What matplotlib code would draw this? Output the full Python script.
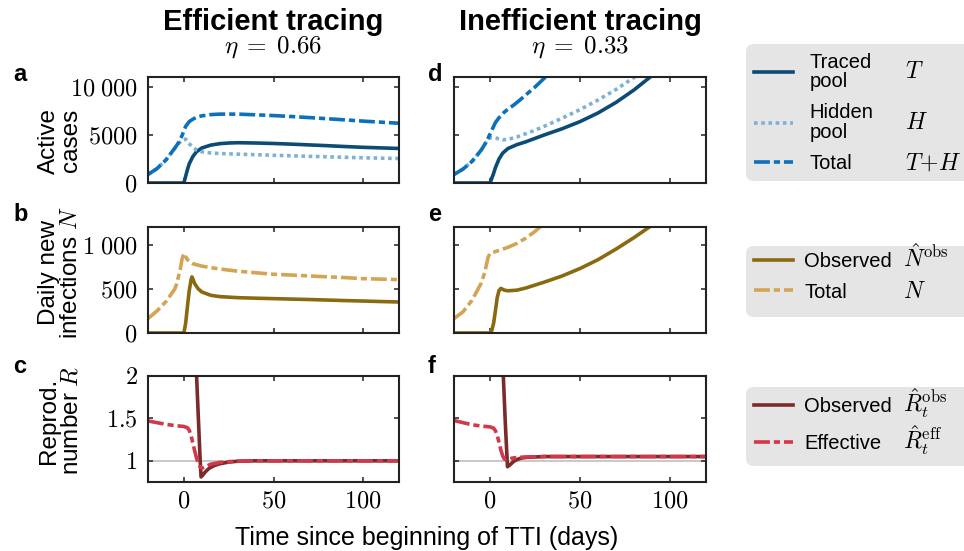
import matplotlib
matplotlib.use("Agg")
import matplotlib.pyplot as plt
from matplotlib.lines import Line2D
from matplotlib.patches import FancyBboxPatch
from matplotlib.transforms import IdentityTransform

plt.rcParams['font.family'] = ['Liberation Sans', 'DejaVu Sans']
plt.rcParams['mathtext.fontset'] = 'cm'

# ---- data ----
# efficient tracing, active cases
days_T_eff = [-20, 0, 1, 2, 3, 5, 7, 10, 15, 20, 25, 30, 40, 50, 60, 70, 80, 90, 100, 110, 120]
T_eff = [0, 0, 700, 1400, 2000, 2750, 3250, 3650, 3950, 4100, 4170, 4200, 4170, 4120, 4050, 3970, 3890, 3800, 3720, 3660, 3600]
days_H_eff = [-20, -15, -10, -5, -3, -1, 1, 3, 5, 7, 10, 15, 20, 30, 40, 50, 60, 70, 80, 90, 100, 110, 120]
H_eff = [890, 1500, 2400, 3650, 4100, 4450, 4580, 4100, 3700, 3450, 3250, 3130, 3070, 3010, 2950, 2890, 2840, 2780, 2730, 2680, 2630, 2590, 2550]
days_tot_eff = [-20, -15, -10, -5, -3, -1, 1, 3, 5, 7, 10, 15, 20, 30, 40, 50, 60, 70, 80, 90, 100, 110, 120]
tot_eff = [890, 1500, 2400, 3650, 4200, 4950, 5900, 6400, 6650, 6850, 7000, 7130, 7180, 7180, 7110, 7030, 6930, 6820, 6700, 6580, 6450, 6340, 6230]

# inefficient tracing, active cases
days_T_ineff = [-20, 0, 1, 2, 3, 5, 7, 10, 15, 20, 25, 30, 40, 50, 60, 70, 80, 88, 92]
T_ineff = [0, 0, 500, 1000, 1600, 2500, 3100, 3600, 4000, 4300, 4650, 5000, 5650, 6400, 7300, 8400, 9700, 10900, 11500]
days_H_ineff = [-20, -15, -10, -5, -3, -1, 1, 3, 7, 10, 15, 20, 25, 30, 40, 50, 60, 70, 80, 85]
H_ineff = [890, 1450, 2250, 3400, 4000, 4600, 4750, 4700, 4500, 4550, 4800, 5150, 5500, 5900, 6750, 7650, 8650, 9750, 11000, 11700]
days_tot_ineff = [-20, -15, -10, -5, -3, -1, 1, 3, 5, 8, 10, 13, 16, 20, 25, 30, 35]
tot_ineff = [890, 1450, 2250, 3400, 4000, 4700, 5500, 6300, 6800, 7400, 7700, 8100, 8550, 9200, 10000, 10900, 11800]

# daily new infections
days_Nobs_eff = [-20, 0, 1, 2, 3, 4, 4.5, 5, 6, 8, 10, 15, 20, 30, 40, 50, 60, 70, 80, 90, 100, 110, 120]
Nobs_eff = [0, 0, 110, 300, 480, 600, 635, 615, 560, 500, 465, 427, 412, 400, 394, 389, 384, 379, 373, 367, 362, 356, 351]
days_N_eff = [-20, -15, -10, -5, -4, -2, -1, 0, 2, 5, 10, 15, 20, 30, 40, 50, 60, 70, 80, 90, 100, 110, 120]
N_eff = [163, 250, 355, 500, 558, 720, 840, 900, 830, 785, 757, 740, 725, 700, 682, 665, 656, 646, 636, 627, 615, 610, 604]
days_Nobs_ineff = [-20, 0, 1, 2, 3, 4, 5, 6, 8, 10, 15, 20, 30, 40, 50, 60, 70, 80, 90]
Nobs_ineff = [0, 0, 30, 110, 250, 400, 480, 505, 485, 478, 485, 510, 575, 645, 730, 830, 950, 1080, 1220]
days_N_ineff = [-20, -15, -10, -5, -3, -1, 0, 2, 5, 10, 15, 20, 25, 30, 35]
N_ineff = [163, 240, 370, 560, 680, 860, 900, 915, 935, 970, 1015, 1075, 1150, 1240, 1340]

# reproduction numbers
days_Robs_eff = [6, 7, 8, 9, 9.6, 10.5, 12, 14, 17, 20, 25, 30, 40, 60, 80, 100, 120]
Robs_eff = [2.55, 2.05, 1.55, 1.05, 0.81, 0.83, 0.87, 0.91, 0.945, 0.965, 0.985, 0.995, 1.0, 1.0, 1.0, 1.0, 1.0]
days_Reff_eff = [-20, -15, -10, -5, 0, 2, 3, 4, 5, 6, 7, 8, 9, 10, 11, 13, 15, 20, 25, 30, 40, 60, 80, 100, 120]
Reff_eff = [1.47, 1.45, 1.43, 1.415, 1.405, 1.39, 1.36, 1.3, 1.21, 1.12, 1.04, 0.97, 0.93, 0.915, 0.92, 0.94, 0.96, 0.98, 0.99, 0.995, 1.0, 1.0, 1.0, 1.0, 1.0]
days_Robs_ineff = [6.5, 7.4, 8.5, 9.7, 11, 13, 15, 17, 20, 25, 30, 50, 80, 120]
Robs_ineff = [2.45, 2.0, 1.45, 0.93, 0.95, 0.99, 1.015, 1.03, 1.04, 1.045, 1.05, 1.05, 1.05, 1.05]
days_Reff_ineff = [-20, -15, -10, -5, 0, 2, 3, 4, 5, 6, 7, 8, 9, 10, 12, 15, 20, 30, 50, 80, 120]
Reff_ineff = [1.475, 1.45, 1.425, 1.41, 1.40, 1.385, 1.355, 1.3, 1.22, 1.13, 1.06, 1.02, 1.01, 1.015, 1.03, 1.04, 1.045, 1.05, 1.05, 1.05, 1.05]

x_ticks = [0, 50, 100]
x_ticklabels = ['$0$', '$50$', '$100$']
yticks_cases = [0, 5000, 10000]
yticklabels_cases = ['$0$', '$5000$', r'$10\;000$']
yticks_new = [0, 500, 1000]
yticklabels_new = ['$0$', '$500$', r'$1\;000$']
yticks_R = [1, 1.5, 2]
yticklabels_R = ['$1$', '$1.5$', '$2$']

# ---- styles ----
C_T = '#0b4b76'
C_H = '#7db1d6'
C_TOT = '#0c70ba'
C_NOBS = '#8a6a10'
C_N = '#d3a453'
C_ROBS = '#7a2b2b'
C_REFF = '#d1384b'
LW = 2.6
DASHDOT = (0, (4.4, 1.1, 1.7, 1.1))
DOTTED = (0, (1.0, 1.0))

W, H = 964, 551
fig = plt.figure(figsize=(W / 100, H / 100), dpi=100)


def px_axes(x0, y0, x1, y1):
    return fig.add_axes([x0 / W, 1 - y1 / H, (x1 - x0) / W, (y1 - y0) / H])


cols = [(148, 399), (454, 706)]
rows = [(77, 183), (227, 333), (376, 482)]
axes = [[px_axes(c[0], r[0], c[1], r[1]) for c in cols] for r in rows]

for ax, (dT, T, dH, Hh, dS, S) in zip(axes[0], [
        (days_T_eff, T_eff, days_H_eff, H_eff, days_tot_eff, tot_eff),
        (days_T_ineff, T_ineff, days_H_ineff, H_ineff, days_tot_ineff, tot_ineff)]):
    ax.plot(dT, T, color=C_T, lw=LW)
    ax.plot(dH, Hh, color=C_H, lw=LW, ls=DOTTED)
    ax.plot(dS, S, color=C_TOT, lw=LW, ls=DASHDOT)
    ax.set_ylim(0, 11050)

for ax, (dO, O, dN, N) in zip(axes[1], [
        (days_Nobs_eff, Nobs_eff, days_N_eff, N_eff),
        (days_Nobs_ineff, Nobs_ineff, days_N_ineff, N_ineff)]):
    ax.plot(dO, O, color=C_NOBS, lw=LW)
    ax.plot(dN, N, color=C_N, lw=LW, ls=DASHDOT)
    ax.set_ylim(0, 1200)

for ax, (dO, O, dE, E) in zip(axes[2], [
        (days_Robs_eff, Robs_eff, days_Reff_eff, Reff_eff),
        (days_Robs_ineff, Robs_ineff, days_Reff_ineff, Reff_ineff)]):
    ax.axhline(1, color='#c4c4c4', lw=1.3, zorder=1)
    ax.plot(dO, O, color=C_ROBS, lw=LW)
    ax.plot(dE, E, color=C_REFF, lw=LW, ls=DASHDOT)
    ax.set_ylim(0.75, 2)

ytick_sets = [(yticks_cases, yticklabels_cases), (yticks_new, yticklabels_new), (yticks_R, yticklabels_R)]
for i, row in enumerate(axes):
    for j, ax in enumerate(row):
        ax.set_xlim(-20, 120)
        ax.set_xticks(x_ticks, x_ticklabels if i == 2 else [])
        ticks, labels = ytick_sets[i]
        ax.set_yticks(ticks, labels if j == 0 else [])
        ax.tick_params(direction='in', top=True, right=True, length=3.5, width=1.1,
                       labelsize=17.5, color='#222222')
        ax.tick_params(axis='y', pad=7.5)
        ax.tick_params(axis='x', pad=6)
        for sp in ax.spines.values():
            sp.set_linewidth(1.5)
            sp.set_color('#222222')

ylabels = ['Active\ncases', 'Daily new\ninfections $N$', 'Reprod.\nnumber $R$']
ylabel_y = [0.40, 0.57, 0.58]
for ax, lab, yy in zip([r[0] for r in axes], ylabels, ylabel_y):
    ax.set_ylabel(lab, fontsize=17.5, linespacing=1.0)
    ax.yaxis.set_label_coords(-0.262, yy)

# column headers
for xc, title, eta in [(273.5, 'Efficient tracing', r'$\eta\;=\;0.66$'),
                       (580, 'Inefficient tracing', r'$\eta\;=\;0.33$')]:
    fig.text(xc / W, 1 - 22 / H, title, ha='center', va='center', fontsize=21, fontweight='bold')
    fig.text(xc / W, 1 - 47 / H, eta, ha='center', va='center', fontsize=18)

# panel letters
for letter, xp, yp in [('a', 13, 81), ('b', 13, 221), ('c', 13, 373),
                       ('d', 428, 81), ('e', 428, 221), ('f', 428, 373)]:
    fig.text(xp / W, 1 - yp / H, letter, fontsize=17, fontweight='bold', va='baseline')

fig.text(427 / W, 1 - 545 / H, 'Time since beginning of TTI (days)', ha='center',
         va='baseline', fontsize=18)

# legend boxes
for y0, y1 in [(44, 181), (246, 317), (387, 466)]:
    fig.add_artist(FancyBboxPatch((746, H - y1), 260, y1 - y0,
                                  boxstyle='round,pad=0,rounding_size=8',
                                  transform=IdentityTransform(),
                                  facecolor='#e5e5e5', edgecolor='none', zorder=0))

leg_specs = [
    ([Line2D([], [], color=C_T, lw=LW), Line2D([], [], color=C_H, lw=LW, ls=DOTTED),
      Line2D([], [], color=C_TOT, lw=LW, ls=DASHDOT)],
     ['Traced\npool', 'Hidden\npool', 'Total'], [r'$T$', r'$H$', r'$T\!+\!H$'],
     113, 0.8, 0.6, 905),
    ([Line2D([], [], color=C_NOBS, lw=LW), Line2D([], [], color=C_N, lw=LW, ls=DASHDOT)],
     ['Observed', 'Total'], [r'$\hat{N}^{\rm obs}$', r'$N$'], 277, 0.55, 0.55, 903),
    ([Line2D([], [], color=C_ROBS, lw=LW), Line2D([], [], color=C_REFF, lw=LW, ls=DASHDOT)],
     ['Observed', 'Effective'], [r'$\hat{R}_t^{\rm obs}$', r'$\hat{R}_t^{\rm eff}$'], 425, 0.55, 0.9, 903),
]
legends = []
for handles, labels, maths, yc, tpad, lsp, xm in leg_specs:
    leg = fig.legend(handles, labels, loc='center left', bbox_to_anchor=(746 / W, 1 - yc / H),
                     frameon=False, fontsize=14.5, handlelength=1.95, handletextpad=tpad,
                     borderpad=0.4, borderaxespad=0, labelspacing=lsp)
    for t in leg.get_texts():
        t.set_linespacing(1.05)
    legends.append((leg, maths, xm))

fig.canvas.draw()
renderer = fig.canvas.get_renderer()
for leg, maths, xm in legends:
    for t, m in zip(leg.get_texts(), maths):
        bb = t.get_window_extent(renderer)
        if '\n' in t.get_text():
            y, va = (bb.y0 + bb.y1) / 2, 'center'
        else:
            _, _, d = renderer.get_text_width_height_descent('lp', t.get_fontproperties(), ismath=False)
            y, va = bb.y0 + d, 'baseline'
        fig.text(xm / W, y / H, m, va=va, ha='left', fontsize=17)

fig.savefig('out.png', dpi=100)
